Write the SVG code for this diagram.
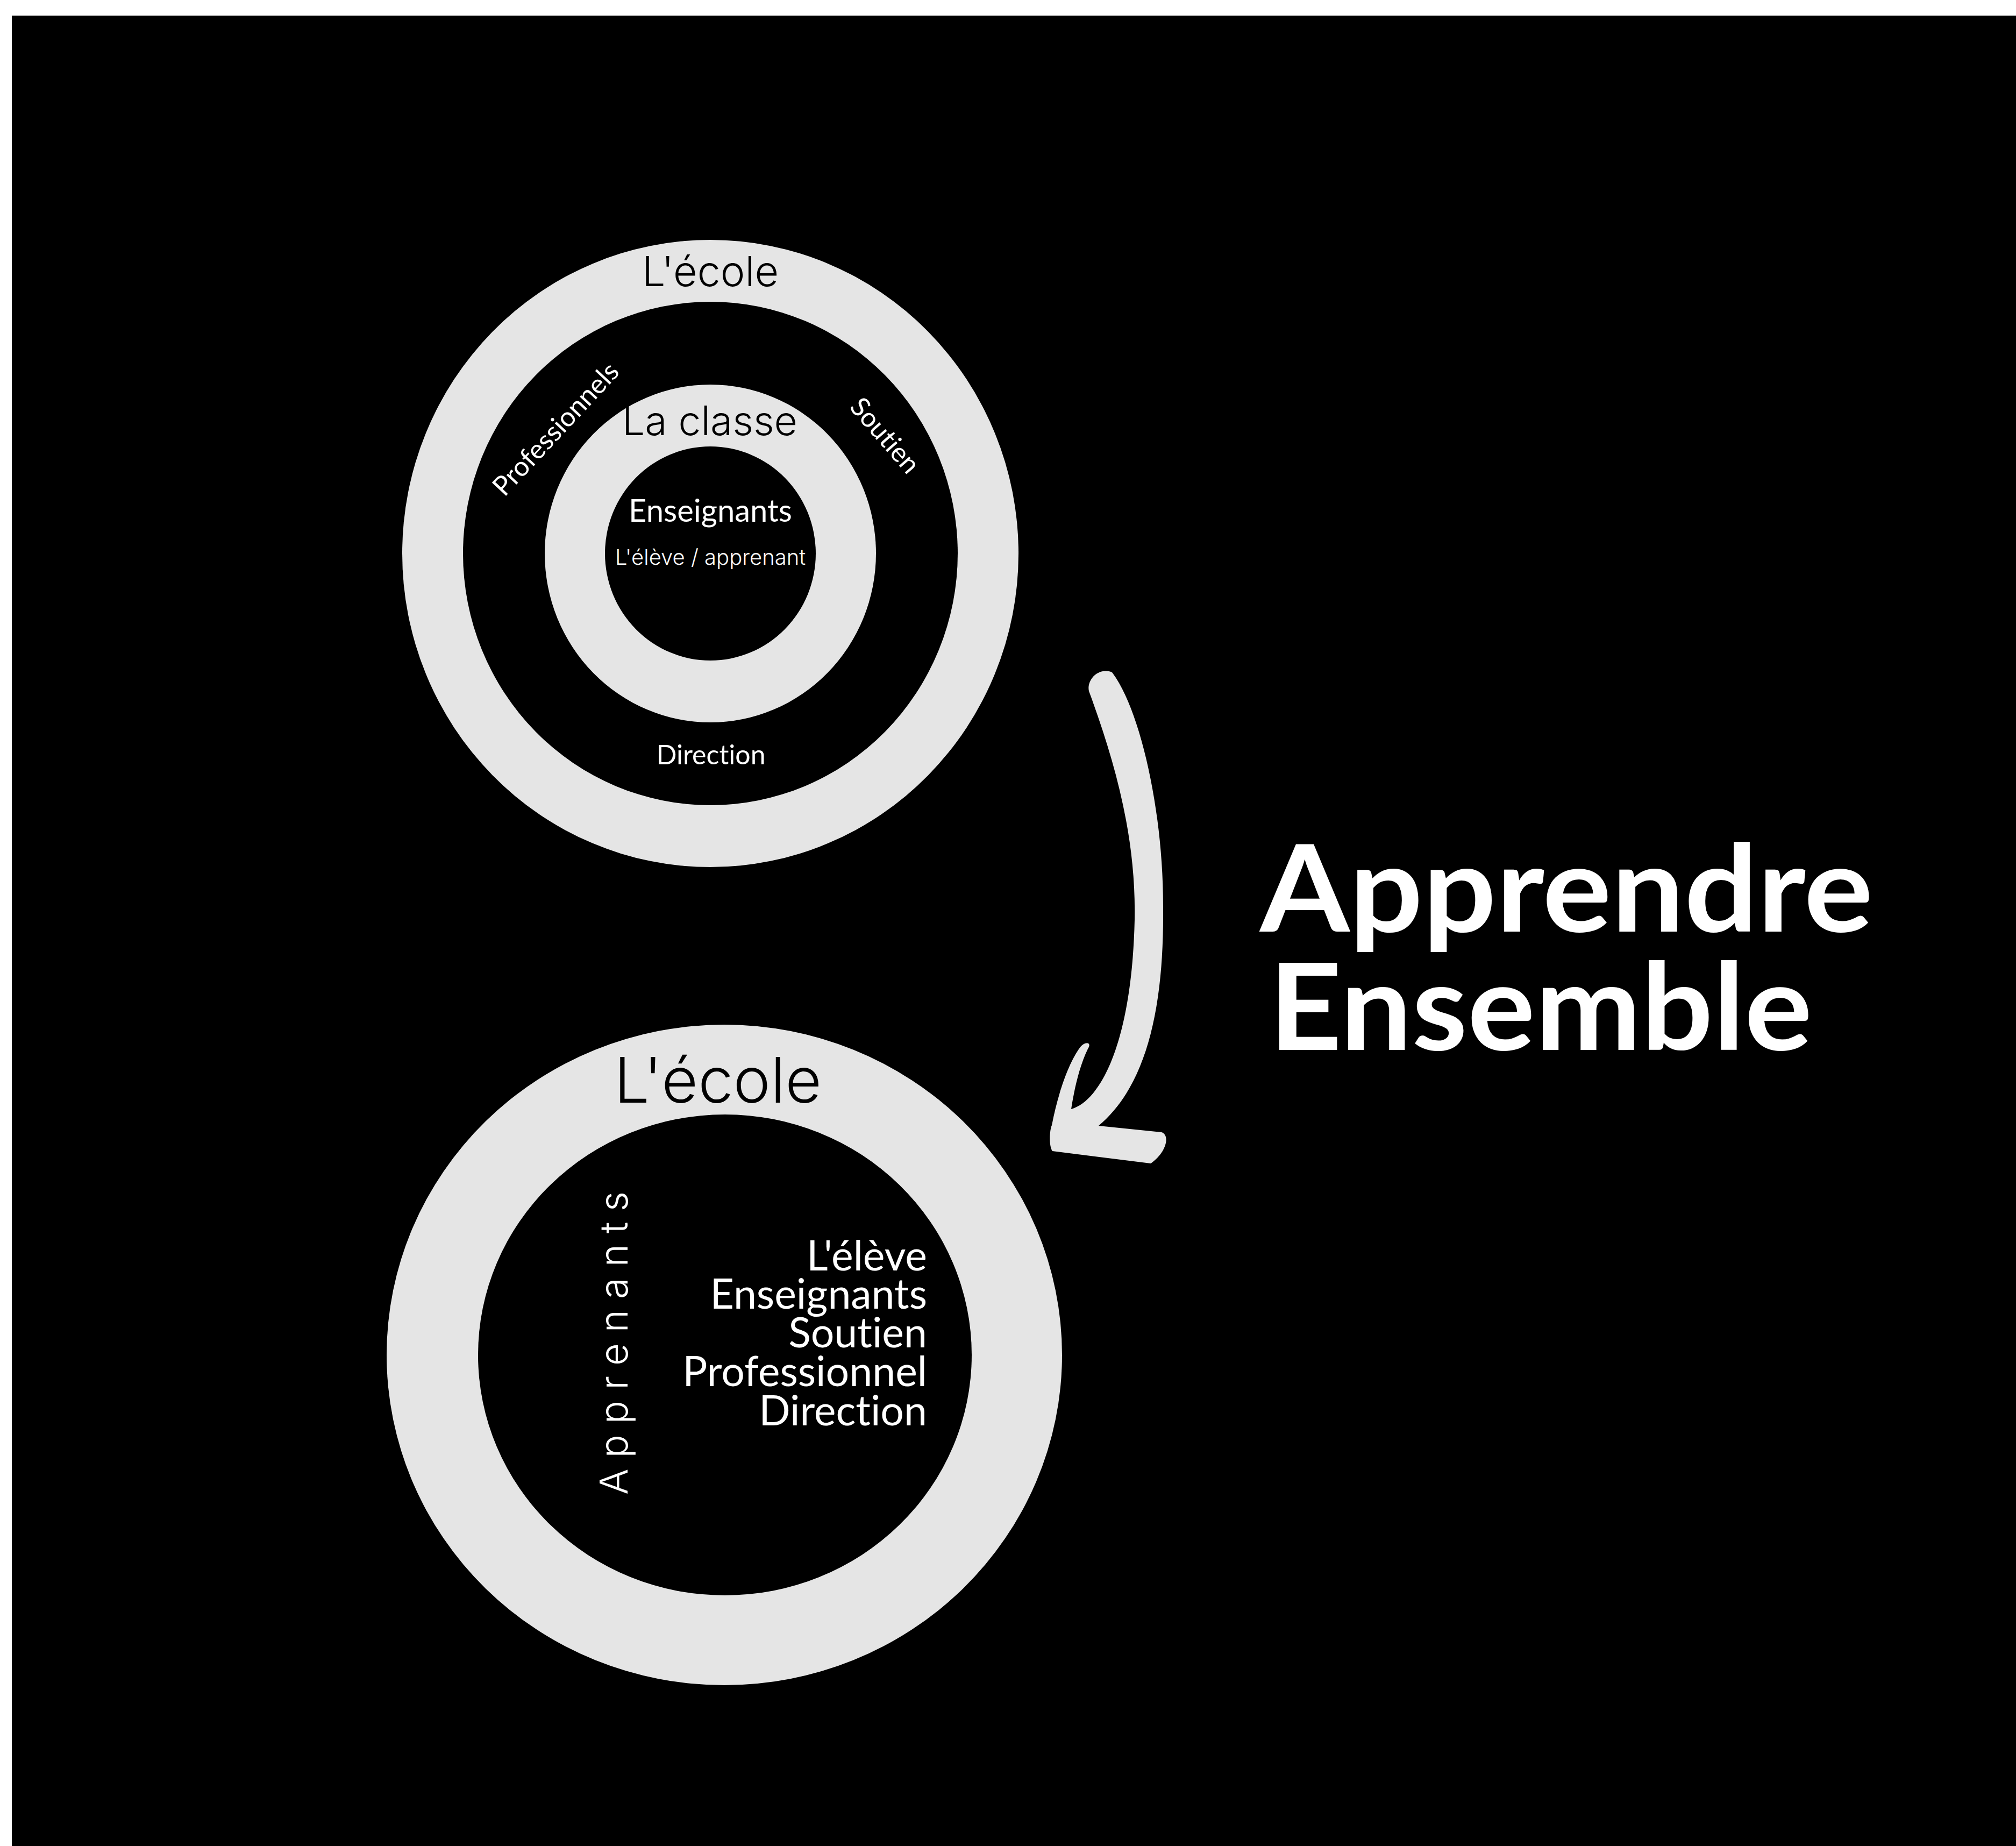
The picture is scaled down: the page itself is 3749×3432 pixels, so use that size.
<svg xmlns="http://www.w3.org/2000/svg" width="3749" height="3432" viewBox="0 0 3749 3432">
<style>
.ring{fill:#e5e5e5}
.hole{fill:#000}
text{font-variant-ligatures:none;font-feature-settings:"liga" 0,"clig" 0}
.mont{font-family:Inter,"Noto Sans","DejaVu Sans",sans-serif;font-weight:300}
.lato{font-family:Lato,"Noto Sans",sans-serif;font-weight:400}
.bold{font-weight:700}
.dark{fill:#000}
.light{fill:#fff}
</style>
<rect x="0" y="0" width="3749" height="3432" fill="#fff"/>
<rect x="22" y="29" width="3727" height="3403" fill="#000"/>

<g id="top-diagram">
  <g id="ecole-top">
    <ellipse class="ring" cx="1321" cy="1029" rx="573" ry="583"/>
    <ellipse class="hole" cx="1321" cy="1029" rx="460" ry="468"/>
    <text class="mont dark" x="1321" y="532" font-size="77" text-anchor="middle">L'école</text>
  </g>
  <g id="classe">
    <ellipse class="ring" cx="1321" cy="1029" rx="308" ry="314"/>
    <ellipse class="hole" cx="1321" cy="1029" rx="196" ry="199"/>
    <text class="mont dark" x="1320" y="809" font-size="75" text-anchor="middle">La classe</text>
  </g>
  <g id="centre-top">
    <text class="lato light" x="1321" y="970" font-size="58" text-anchor="middle">Enseignants</text>
    <text class="mont light" x="1321" y="1050" font-size="40" text-anchor="middle">L'élève / apprenant</text>
  </g>
  <g id="professionnels">
    <text class="lato light" font-size="50" text-anchor="middle" transform="translate(1046,809) rotate(-47)">Professionnels</text>
  </g>
  <g id="soutien">
    <text class="lato light" font-size="50" text-anchor="middle" transform="translate(1633,821) rotate(49)">Soutien</text>
  </g>
  <g id="direction">
    <text class="lato light" x="1322" y="1421" font-size="50" text-anchor="middle">Direction</text>
  </g>
</g>

<g id="connectors">
  <path class="ring" d="M2025,1285 C2020,1262 2045,1240 2068,1250 C2118,1315 2163,1500 2163,1685 C2165,1880 2130,2020 2043,2093 L2160,2105 C2176,2110 2170,2142 2140,2163 L1957,2140 C1950,2130 1952,2100 1956,2092 C1968,2030 1988,1975 2008,1948 C2016,1936 2032,1936 2023,1950 C2006,1985 1997,2030 1992,2062 C2050,2045 2105,1930 2110,1710 C2113,1560 2075,1420 2025,1285 Z"/>
</g>

<g id="title">
  <text class="lato light bold" font-size="224" x="2343" y="1732" textLength="1140" lengthAdjust="spacingAndGlyphs">Apprendre</text>
  <text class="lato light bold" font-size="224" x="2360" y="1952" textLength="1010" lengthAdjust="spacingAndGlyphs">Ensemble</text>
</g>

<g id="bottom-diagram">
  <g id="ecole-bottom">
    <ellipse class="ring" cx="1347" cy="2519" rx="628" ry="614"/>
    <ellipse class="hole" cx="1348" cy="2519" rx="459" ry="447"/>
    <text class="mont dark" x="1335" y="2050" font-size="117" text-anchor="middle">L'école</text>
  </g>
  <g id="apprenants">
    <text class="mont light" font-size="72" textLength="564" lengthAdjust="spacing" transform="translate(1167,2779) rotate(-90)">Apprenants</text>
  </g>
  <g id="liste">
    <text class="lato light" font-size="77" text-anchor="end"><tspan x="1724" y="2362">L'élève</tspan><tspan x="1724" y="2433">Enseignants</tspan><tspan x="1724" y="2505">Soutien</tspan><tspan x="1724" y="2577">Professionnel</tspan><tspan x="1724" y="2650">Direction</tspan></text>
  </g>
</g>
</svg>
